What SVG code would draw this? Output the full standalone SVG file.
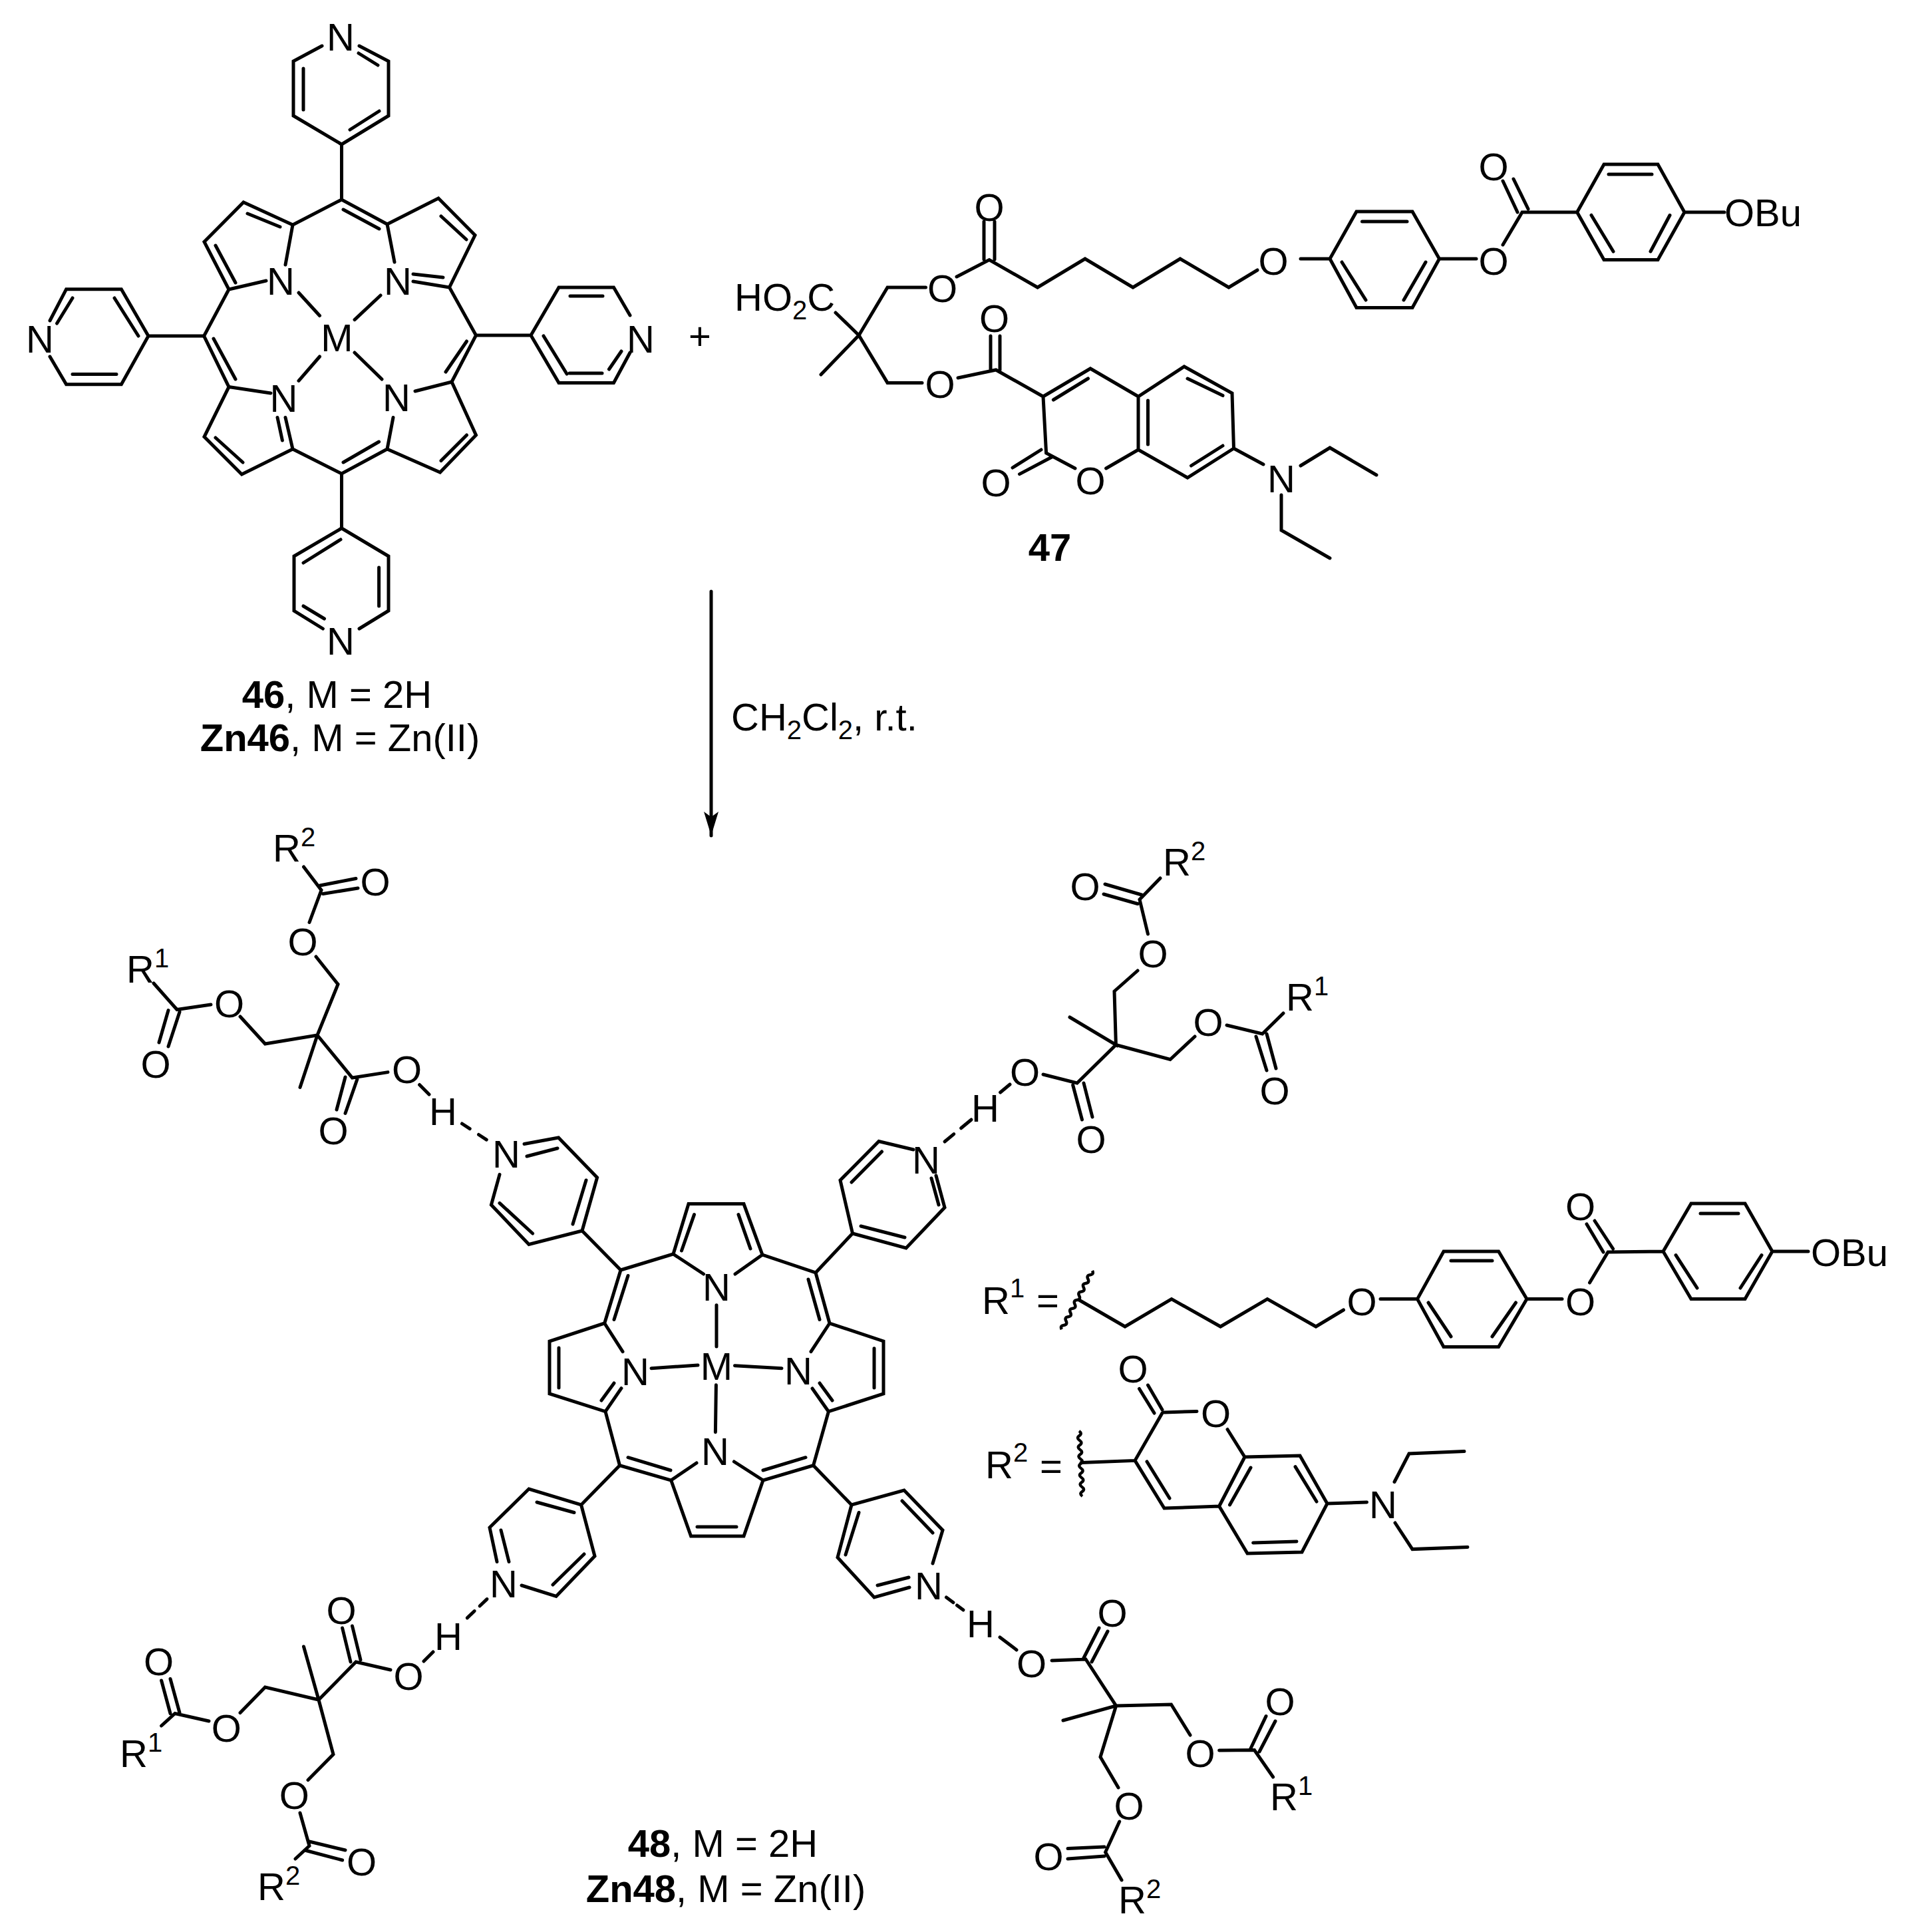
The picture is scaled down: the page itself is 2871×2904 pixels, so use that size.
<svg xmlns="http://www.w3.org/2000/svg" width="2871" height="2904" viewBox="0 0 2871 2904">
<style>
.b{fill:none;stroke:#000;stroke-width:5;stroke-linecap:round;stroke-linejoin:miter}
.w{fill:none;stroke:#000;stroke-width:4.5}
text{font-family:"Liberation Sans",Arial,sans-serif;font-size:58px;fill:#000}
.c{text-anchor:middle}
.k{font-weight:bold}
.s{font-size:40px}
</style>
<defs><marker id="ah" markerUnits="userSpaceOnUse" markerWidth="40" markerHeight="24" refX="36" refY="12" orient="auto" viewBox="0 0 40 24"><path d="M36 12L0 1L8 12L0 23Z" fill="#000"/></marker></defs>
<rect width="2871" height="2904" fill="#fff"/>

<g id="connectors">
<path class="b" d="M1069 889V1256" marker-end="url(#ah)"/>
<text x="1099" y="1098">CH<tspan class="s" dy="13">2</tspan><tspan dy="-13">Cl</tspan><tspan class="s" dy="13">2</tspan><tspan dy="-13">, r.t.</tspan></text>
</g>

<g id="compound-46">
<path class="b" d="M484 69L441 92V174L513.5 217L584 174V92L540 69M456 103V165M539 80L568 98M526 195L570 167M513.5 217V300"/>
<path class="b" d="M344 435L400 422M429 398L440 338L366 304L307 363.5L344 435L306.6 505L344 581.6M440 338L513.5 300L582 337L593 394M582 337L659 298L714 353.5L675.5 432L715.5 504L679 574M372 321L421 341M324 369L354 425M516 315L570 344M621 412L666 417M621 423L675.5 432M663 325L701 360M701.5 513L670 559"/>
<path class="b" d="M715.5 504H798L840 432H922.5L947 474M947 530L922.5 575.5H840L798 504M857 445H906M817 505L852 562M856 561H905M915.5 555L934 528"/>
<path class="b" d="M624 588L679 574L715.5 654L661.5 710L582 675L591 627.5M701.5 654L663 692.6M582 675L513.5 712L440 675L429 627.5M569.6 664L516 695M417 627.5L424.4 662M440 675L363.4 713L307 656.6L344 581.6L407 591M324 658L365 695M321 509L354 570"/>
<path class="b" d="M513.5 712V794L442 836V918L485.4 945M540 945L584 918V836L513.5 794M456 846L512 811M569.6 853V911M456 911L487.5 930"/>
<path class="b" d="M306.6 505H223L182.4 434.7H99.6L75 482M75 536L99.6 577.8H182.4L223 505M109 448L85.6 486M172 448L208 505M109 562.5H175"/>
<path class="b" d="M449 440L480.5 474.5M572 444L533 480.6M480.5 536L449 572.4M533 530L574 570"/>
<text class="c" x="512" y="76">N</text><text class="c" x="422" y="443">N</text><text class="c" x="598" y="443">N</text><text class="c" x="506.5" y="528">M</text><text class="c" x="426.5" y="619">N</text><text class="c" x="596" y="618">N</text><text class="c" x="963" y="530">N</text><text class="c" x="60" y="530">N</text><text class="c" x="512" y="984">N</text>
<text class="c" x="506.5" y="1064"><tspan class="k">46</tspan>, M = 2H</text>
<text class="c" x="511" y="1129"><tspan class="k">Zn46</tspan>, M = Zn(II)</text>
</g>

<g id="plus"><text class="c" x="1052" y="525">+</text></g>

<g id="compound-47">
<path class="b" d="M1256 470L1291 504L1234 563M1291 504L1334 432H1391.5M1291 504L1334 575.4H1386M1438 416L1487 390.5L1559.6 432L1631 389L1703 432L1774 389L1847 432L1890 406M1479 390V333M1495 390V333M1955 389H1999L2039 318H2123L2163.5 389L2123 462.5H2039L1999 389M2047.5 333H2115M2017 394L2053 451M2143 394L2110 451M2163.5 389H2219M2259 368L2288 319L2370.6 319M2259 272L2281 319M2275 269L2297 314M2370.6 319L2411 247H2492L2532 319L2492 390.5H2411L2370.6 319M2418 262H2483M2392 323.5L2425 378M2510 323.5L2481 378M2532 319H2592"/>
<path class="b" d="M1440 568L1497 556L1568 596L1639 554L1711 596L1780 551L1852 591L1854.5 674L1785 718L1711 676L1711 596M1489 556V505M1503 556V505M1568 596L1572.6 681L1616 704M1662.6 704L1711 676M1565 676L1522 703M1581 687L1532.5 712.6M1583.4 601L1635.5 569M1725.5 602V668M1785 569L1838 594.6M1790.5 700L1838 670M1854.5 674L1899 698M1955 700L1999 673L2069 714M1926 744V797L1999 839"/>
<text x="1104" y="467">HO<tspan class="s" dy="13">2</tspan><tspan dy="-13">C</tspan></text>
<text class="c" x="1416.5" y="454">O</text><text class="c" x="1487" y="332">O</text><text class="c" x="1914" y="413">O</text><text class="c" x="2245" y="413">O</text><text class="c" x="2245" y="271">O</text>
<text x="2592" y="339.5">OBu</text>
<text class="c" x="1413" y="598">O</text><text class="c" x="1494.5" y="499">O</text><text class="c" x="1639" y="743">O</text><text class="c" x="1497" y="746">O</text><text class="c" x="1926" y="740">N</text>
<text class="c k" x="1578" y="843">47</text>
</g>

<g id="compound-48-core">
<path class="b" d="M933 1909L1012 1885L1035 1809.6H1118L1146 1886L1226 1913L1247 1989L1328 2016V2095L1245.4 2121.7L1222.6 2202.7L1147 2225L1118 2309H1038.6L1008.7 2225L931.5 2202.7L910 2121.7L826 2095V2016L908.7 1989L933 1909M1012 1885L1057.6 1915M1146 1886L1105 1915M1024.5 1880L1043.5 1825.6M1128 1877L1110 1825.6M944 1917.5L923 1983.5M1215 1923L1232 1983.5M908.7 1989L936 2031.7M1247 1989L1219 2031.7M840 2026V2086M1314 2026.7V2086M934 2086.7L910 2121.7M923 2079L904 2105M1221 2087L1245.4 2121.7M1232 2079L1251 2105M1008.7 2225L1047 2199M1147 2225L1103.4 2197M1048 2295H1107M944 2190.7L1008 2210M1147 2210L1211 2190.7"/>
<path class="b" d="M1077 1961.7V2024M1076.4 2081.7L1075.4 2152.7M979 2056.7L1049 2052M1104.5 2052.7L1175 2056.7"/>
<text class="c" x="1077" y="1955">N</text><text class="c" x="1077" y="2074">M</text><text class="c" x="955" y="2082">N</text><text class="c" x="1200" y="2081">N</text><text class="c" x="1075" y="2202">N</text>
<path class="b" d="M875 1850L933 1909M875 1850L897.6 1770L839.5 1710L788 1719.5M792 1738L838 1726M875 1850L795 1870.4L738.4 1811L751 1765.4M881 1774L861 1840M800.6 1854L751 1808.4"/>
<text class="c" x="761" y="1755">N</text>
<path class="b" d="M1226 1913L1281.5 1854L1263 1774L1321 1715.5L1373 1728M1280 1777L1325.5 1731M1281.5 1854L1362 1876L1420 1815L1407 1767M1294 1843L1360 1860M1400 1771L1411 1811"/>
<text class="c" x="1392" y="1764">N</text>
<path class="b" d="M931.5 2202.7L873.6 2262L795 2238L736 2296L747 2347.5M784 2383L836 2399.5L894 2339L873.6 2262M863 2273.5L807 2258M753 2300L765 2347.5M878 2336L831 2382"/>
<text class="c" x="757" y="2401">N</text>
<path class="b" d="M1222.6 2202.7L1280 2262L1359 2240L1417 2300L1402 2350M1280 2262L1259 2341L1314 2401L1367 2386M1319 2383L1366 2371M1291 2273.5L1271 2337M1356 2256L1402 2304"/>
<text class="c" x="1396" y="2404">N</text>
</g>

<g id="arm-top-left">
<path class="b" d="M456.5 1303L483 1338L465 1386.5M481 1331L535 1320.5M485.5 1343.5L538 1335M475 1438L508 1479.5L477 1556L398.5 1569L361 1528M317 1510L266 1517.5L231 1478M253 1518.6L239 1567M270 1521L253 1573M477 1556L451 1634.5M477 1556L529.5 1620L583 1611.6M519 1619L506 1668M537 1622L519 1673.5M630.6 1630.5L645 1645"/>
<path class="b" d="M694.5 1689L734 1715" stroke-dasharray="14 16"/>
<text x="410" y="1295">R<tspan class="s" dy="-23">2</tspan></text><text class="c" x="564" y="1346">O</text><text class="c" x="455" y="1436">O</text><text class="c" x="344.6" y="1529">O</text><text x="190" y="1477">R<tspan class="s" dy="-23">1</tspan></text><text class="c" x="234" y="1620">O</text><text class="c" x="611.6" y="1628">O</text><text class="c" x="501" y="1720">O</text><text class="c" x="666" y="1691">H</text>
</g>

<g id="arm-top-right">
<path class="b" d="M1744 1320L1713 1352L1725.5 1404M1661 1329L1716 1345M1659 1344L1710 1358.5M1710 1459L1675 1490L1677.4 1570.5L1608 1529M1677.4 1570.5L1759 1592.5L1796 1558M1844 1541L1897.5 1554L1929 1523M1888 1558L1904 1609M1904 1554L1918 1606M1677.4 1570.5L1619 1628L1568 1615M1612.7 1631L1626.5 1683M1629 1628L1642 1679M1518 1630L1503.6 1642"/>
<path class="b" d="M1460 1683L1420 1716" stroke-dasharray="20 14"/>
<text x="1748" y="1316">R<tspan class="s" dy="-23">2</tspan></text><text class="c" x="1631" y="1353">O</text><text class="c" x="1733" y="1454">O</text><text class="c" x="1816" y="1557">O</text><text x="1933" y="1519">R<tspan class="s" dy="-23">1</tspan></text><text class="c" x="1916" y="1660">O</text><text class="c" x="1540.5" y="1632">O</text><text class="c" x="1640" y="1733">O</text><text class="c" x="1481" y="1686">H</text>
</g>

<g id="arm-bottom-left">
<path class="b" d="M732 2403.6L697 2437" stroke-dasharray="15 11"/>
<path class="b" d="M651 2483L637 2497M587 2510L535 2498L479 2555L456.5 2475M527 2498L514.6 2447M542 2495L529.5 2444M479 2555L398.5 2536L361 2574.5M314 2587L263 2575.5L242.6 2594M256 2575.5L242.6 2526M270 2574.5L256 2523.5M479 2555L501 2637L463 2675.5M451 2725L465 2774.5L444 2794M465 2768L519 2781M458 2781L514.6 2796"/>
<text class="c" x="674" y="2480">H</text><text class="c" x="614" y="2540">O</text><text class="c" x="513" y="2441">O</text><text class="c" x="340.4" y="2618">O</text><text class="c" x="238.5" y="2518">O</text><text x="180" y="2656">R<tspan class="s" dy="-23">1</tspan></text><text class="c" x="442.4" y="2719">O</text><text class="c" x="543.6" y="2819">O</text><text x="387" y="2856">R<tspan class="s" dy="-23">2</tspan></text>
</g>

<g id="arm-bottom-right">
<path class="b" d="M1422.5 2401L1448 2420" stroke-dasharray="13 7"/>
<path class="b" d="M1503 2461L1528 2480M1581 2496L1632 2494L1677.6 2564L1598 2586M1628.5 2493L1652 2447M1641 2498L1665 2452M1677.6 2564L1760.5 2562L1789 2608M1832.6 2631L1885.5 2630.6L1913.6 2671M1880 2628L1903 2579.6M1893 2633L1917 2587M1677.6 2564L1654 2641L1681 2687M1682.7 2738L1661.6 2784L1686 2826M1605 2778.6L1660 2776M1605 2794L1660 2790"/>
<text class="c" x="1474" y="2461">H</text><text class="c" x="1550.6" y="2521">O</text><text class="c" x="1672" y="2445">O</text><text class="c" x="1804" y="2656">O</text><text class="c" x="1924" y="2578">O</text><text x="1909" y="2721">R<tspan class="s" dy="-23">1</tspan></text><text class="c" x="1697" y="2735">O</text><text class="c" x="1576" y="2811">O</text><text x="1681" y="2875.5">R<tspan class="s" dy="-23">2</tspan></text>
</g>

<g id="r1-definition">
<path class="w" d="M1642 1910q2.75 5.45 -3.3 6.3t-3.3 6.3t-3.3 6.3t-3.3 6.3t-3.3 6.3t-3.3 6.3t-3.3 6.3t-3.3 6.3t-3.3 6.3t-3.3 6.3t-3.3 6.3t-3.3 6.3t-3.3 6.3t-3.3 6.3"/>
<path class="b" d="M1622 1954L1691 1994L1761 1952.6L1834.6 1994L1905 1952.6L1978 1994L2019.5 1969M2075 1952.6H2130.5L2170 1881H2252.6L2295 1952.6L2252.6 2024.5H2170L2130.5 1952.6M2181 1895H2243M2147 1958L2181 2009M2278.5 1958L2243 2009M2295 1952.6H2348M2389.5 1928L2417 1882L2500 1881M2385 1840L2410 1882M2397 1835L2424.6 1877M2500 1881L2542 1809H2623L2664 1881L2623 1952.6H2542L2500 1881M2556 1824H2613M2519 1886.6L2551 1936M2648 1886.6L2616 1936M2664 1881H2718"/>
<text x="1476" y="1975">R<tspan class="s" dy="-25">1</tspan></text><text x="1558" y="1975">=</text>
<text class="c" x="2047" y="1977">O</text><text class="c" x="2375.5" y="1977">O</text><text class="c" x="2375.5" y="1834">O</text><text x="2722" y="1903">OBu</text>
</g>

<g id="r2-definition">
<path class="w" d="M1622 2151q5.2 3.5 .36 7t.36 7t.36 7t.36 7t.36 7t.36 7t.36 7t.36 7t.36 7t.36 7t.36 7t.36 7t.36 7t.36 7"/>
<path class="b" d="M1625 2198.5L1706 2195.4L1747 2124M1712.5 2087.5L1735 2124M1725.5 2082L1747 2119M1750 2123L1799 2121.4M1845 2148.5L1871 2190L1954 2188L1995 2260L1957 2333L1875 2335L1832.6 2264L1750 2267L1706 2195.4M1871 2190L1832.6 2264M1724 2197L1758 2252M1947 2204.6L1979 2257M1880 2206L1848.5 2262M1883.6 2319L1949 2317M1995 2260L2054.5 2258M2096 2227.5L2118 2185L2201 2181.6M2097 2289L2123 2328.6L2206 2325.5"/>
<text x="1481" y="2222">R<tspan class="s" dy="-25">2</tspan></text><text x="1563" y="2224">=</text>
<text class="c" x="1703" y="2078">O</text><text class="c" x="1827.5" y="2145">O</text><text class="c" x="2079" y="2282">N</text>
</g>

<g id="label-48">
<text class="c" x="1086.5" y="2791"><tspan class="k">48</tspan>, M = 2H</text>
<text class="c" x="1091" y="2859"><tspan class="k">Zn48</tspan>, M = Zn(II)</text>
</g>
</svg>
